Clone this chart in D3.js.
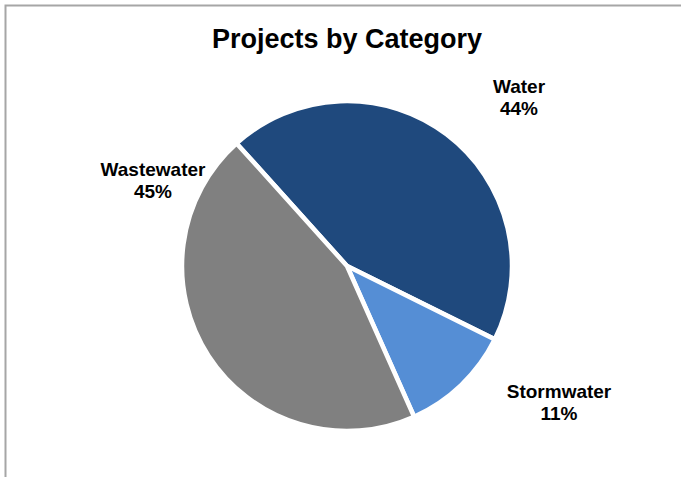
<!DOCTYPE html>
<html>
<head>
    <title>Projects by Category</title>
    <script src="https://d3js.org/d3.v7.min.js"></script>
    <style>
        body { margin: 0; background: #fff; }
        .title { font-family: "Liberation Sans", Arial, sans-serif; font-weight: bold; font-size: 27px; }
        .label { font-family: "Liberation Sans", Arial, sans-serif; font-weight: bold; font-size: 19px; }
    </style>
</head>
<body>
    <script>
        var w = 681, h = 477;

        // chart data
        var categories = ["Water", "Stormwater", "Wastewater"];
        var values = [44, 11, 45];
        var colors = ["#1F497D", "#558ED5", "#808080"];
        // label positions (x, y of first line)
        var labelPos = [[519, 93], [559, 398], [153, 176]];

        var cx = 347, cy = 266, radius = 165;
        var startDeg = -42;

        var svg = d3.select("body").append("svg")
            .attr("width", w)
            .attr("height", h);

        // chart area border (right/bottom run off the page)
        svg.append("rect")
            .attr("x", 5.5).attr("y", 5.5)
            .attr("width", 700).attr("height", 500)
            .attr("fill", "#fff")
            .attr("stroke", "#a6a6a6")
            .attr("stroke-width", 2);

        svg.append("text")
            .attr("class", "title")
            .attr("x", cx)
            .attr("y", 48)
            .attr("text-anchor", "middle")
            .text("Projects by Category");

        var pie = d3.pie()
            .sort(null)
            .startAngle(startDeg * Math.PI / 180)
            .endAngle((startDeg + 360) * Math.PI / 180);

        var arc = d3.arc().innerRadius(0).outerRadius(radius);

        var g = svg.append("g").attr("transform", "translate(" + cx + "," + cy + ")");

        g.selectAll("path")
            .data(pie(values))
            .enter()
            .append("path")
            .attr("d", arc)
            .attr("fill", function (d, i) { return colors[i]; })
            .attr("stroke", "#fff")
            .attr("stroke-width", 4.5)
            .attr("stroke-linejoin", "round");

        categories.forEach(function (c, i) {
            var t = svg.append("text")
                .attr("class", "label")
                .attr("text-anchor", "middle")
                .attr("x", labelPos[i][0])
                .attr("y", labelPos[i][1]);
            t.append("tspan").attr("x", labelPos[i][0]).text(c);
            t.append("tspan").attr("x", labelPos[i][0]).attr("dy", 22).text(values[i] + "%");
        });
    </script>
</body>
</html>
